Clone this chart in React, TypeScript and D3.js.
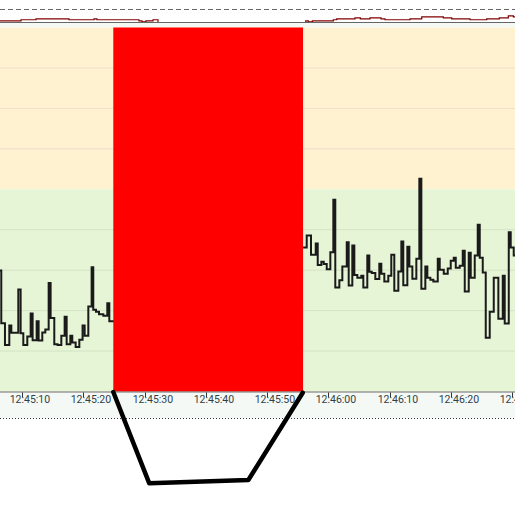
import * as d3 from "d3";

const W = 515;
const H = 509;

// seconds after 12:45:00
const TICK_LABELS = ["12:45:10", "12:45:20", "12:45:30", "12:45:40", "12:45:50", "12:46:00", "12:46:10", "12:46:20", "12:46:30"];
const VIEW = [6.36, 90.5];
const Y_MAX = 90;
const THRESHOLD = 50;
const ALARM_WINDOW = [24.87, 55.87];

const LEFT_T = [6.0, 6.57, 7.17, 7.88, 8.21, 9.35, 9.73, 10.17, 10.82, 11.37, 11.69, 12.35, 12.67, 13.27, 13.76, 14.31, 14.63, 15.23, 15.77, 16.38, 16.92, 17.25, 17.85, 18.17, 18.72, 19.32, 19.85, 20.19, 20.79, 21.33, 21.6, 22.04, 22.53, 23.24, 23.89, 24.22, 25.0];
const LEFT_V = [29.9, 16.9, 11.5, 16.3, 14.5, 25.2, 14.4, 11.5, 13.6, 19.3, 12.7, 17.4, 12.6, 14.6, 15.3, 26.8, 18.2, 11.7, 11.5, 13.8, 18.5, 11.7, 13.8, 12.1, 11.0, 12.8, 16.3, 13.8, 21.0, 30.7, 20.2, 19.7, 19.1, 18.7, 21.8, 17.4, 17.4];

const RIGHT_T = [55.87, 56.47, 57.17, 57.94, 58.27, 58.86, 59.25, 59.74, 60.33, 60.82, 61.14, 61.8, 62.29, 63.01, 63.33, 63.92, 64.25, 64.74, 65.39, 65.72, 66.37, 66.7, 67.09, 67.68, 68.33, 68.66, 69.15, 69.8, 70.29, 70.78, 71.44, 71.93, 72.25, 72.91, 73.24, 73.73, 74.38, 74.87, 75.2, 75.85, 76.18, 76.67, 77.16, 77.88, 78.2, 78.86, 79.51, 80.0, 80.49, 80.82, 81.47, 81.96, 82.29, 82.94, 83.27, 83.92, 84.41, 84.74, 85.23, 85.72, 86.37, 87.03, 87.78, 88.5, 88.82, 89.48, 89.8, 90.29, 91.0];
const RIGHT_V = [35.6, 38.6, 33.8, 36.6, 31.3, 32.1, 31.5, 30.2, 34.4, 47.4, 25.7, 27.5, 30.9, 36.9, 26.2, 36.1, 28.8, 28.1, 28.6, 25.7, 33.6, 29.6, 29.3, 27.8, 31.6, 29.1, 27.2, 28.6, 33.8, 24.9, 29.7, 37.1, 26.3, 35.8, 30.9, 27.9, 32.8, 52.6, 25.4, 30.9, 28.1, 27.6, 27.2, 32.8, 30.1, 29.1, 30.4, 32.3, 33.1, 30.6, 31.1, 34.8, 24.7, 34.3, 28.1, 33.6, 41.2, 33.1, 29.4, 13.3, 19.7, 28.1, 18.0, 28.6, 16.8, 39.4, 35.6, 33.6, 33.6];

// overview strip (0..100)
const NAV_LEFT_T = [6.0, 9.79, 12.24, 17.63, 21.72, 22.2, 29.07, 29.56, 30.2, 31.36, 32.17];
const NAV_LEFT_V = [13, 21, 28, 21, 28, 21, 13, 5, 13, 21, 0];
const NAV_RIGHT_T = [56.31, 56.31, 56.73, 57.39, 60.82, 61.37, 64.36, 65.23, 66.81, 68.61, 69.26, 73.35, 75.26, 78.79, 80.16, 83.15, 85.88, 87.94, 89.41, 90.23, 91.0];
const NAV_RIGHT_V = [0, 13, 5, 13, 21, 28, 36, 28, 36, 28, 21, 28, 44, 36, 28, 21, 28, 36, 51, 44, 44];

// hand-drawn mark under the alarm window: time, px below axis
const MARK_T = [24.87, 30.75, 46.93, 55.82];
const MARK_DY = [0.5, 91.8, 88.5, 1.2];

const BASE = new Date(2024, 0, 1, 12, 45, 0).getTime();
const toDate = (s: number) => new Date(BASE + s * 1000);
const parseTick = d3.timeParse("%H:%M:%S");

const PLOT_TOP = 27.5;
const PLOT_BOTTOM = 391.5;

const pairs = (ts: number[], vs: number[]) => ts.map((t, i) => [t, vs[i]] as [number, number]);

export default function App() {
  const x = d3.scaleTime().domain(VIEW.map(toDate)).range([0, W]);
  const y = d3.scaleLinear().domain([0, Y_MAX]).range([PLOT_BOTTOM, PLOT_TOP]);
  const ny = d3.scaleLinear().domain([0, 100]).range([22.5, 9.5]);

  const ticks = TICK_LABELS.map((l) => {
    const p = parseTick(l)!;
    return { label: l, s: (p.getHours() - 12) * 3600 + (p.getMinutes() - 45) * 60 + p.getSeconds() };
  });

  const line = d3.line<[number, number]>().x((d) => x(toDate(d[0]))).y((d) => y(d[1])).curve(d3.curveStepAfter);
  const navLine = d3.line<[number, number]>().x((d) => x(toDate(d[0]))).y((d) => ny(d[1])).curve(d3.curveStepAfter);
  const markLine = d3.line<[number, number]>().x((d) => x(toDate(d[0]))).y((d) => PLOT_BOTTOM + d[1]);

  const grid = d3.range(10, Y_MAX, 10);
  const ax0 = x(toDate(ALARM_WINDOW[0])), ax1 = x(toDate(ALARM_WINDOW[1]));

  return (
    <svg width={W} height={H} style={{ position: "absolute", left: 0, top: 0, background: "#fff" }}>
      {/* overview strip */}
      <line x1={0} x2={W} y1={ny(100)} y2={ny(100)} stroke="#666" strokeDasharray="5,3" />
      <path d={navLine(pairs(NAV_LEFT_T, NAV_LEFT_V))!} fill="none" stroke="#800000" strokeWidth={1.2} />
      <path d={navLine(pairs(NAV_RIGHT_T, NAV_RIGHT_V))!} fill="none" stroke="#800000" strokeWidth={1.2} />
      <line x1={0} x2={W} y1={ny(0)} y2={ny(0)} stroke="#666" />
      <rect x={0} y={23} width={W} height={PLOT_TOP - 23} fill="#f5f9f5" />

      {/* bands */}
      <rect x={0} y={y(Y_MAX)} width={W} height={y(THRESHOLD) - y(Y_MAX)} fill="#fff2d0" />
      <rect x={0} y={y(THRESHOLD)} width={W} height={y(0) - y(THRESHOLD)} fill="#e7f5d7" />
      {grid.filter((g) => g !== THRESHOLD).map((g) => (
        <line key={g} x1={0} x2={W} y1={y(g)} y2={y(g)} stroke={g > THRESHOLD ? "#f1dccc" : "#d2e3c3"} strokeWidth={1} />
      ))}

      <path d={line(pairs(LEFT_T, LEFT_V))!} fill="none" stroke="#1a1a1a" strokeWidth={2} />
      <path d={line(pairs(RIGHT_T, RIGHT_V))!} fill="none" stroke="#1a1a1a" strokeWidth={2} />

      <rect x={ax0} y={PLOT_TOP} width={ax1 - ax0} height={PLOT_BOTTOM - PLOT_TOP} fill="#ff0000" />

      {/* axis */}
      <rect x={0} y={PLOT_BOTTOM + 1} width={W} height={418 - PLOT_BOTTOM - 1} fill="#f5f9f5" />
      <line x1={0} x2={W} y1={PLOT_BOTTOM + 0.5} y2={PLOT_BOTTOM + 0.5} stroke="#666" />
      {ticks.map((t) => {
        const tx = Math.round(x(toDate(t.s))) + 0.5;
        return (
          <g key={t.label}>
            <line x1={tx} x2={tx} y1={PLOT_BOTTOM + 1} y2={PLOT_BOTTOM + 6} stroke="#333" />
            <text x={tx + 7.4} y={402.5} textAnchor="middle" fontFamily="Roboto, sans-serif" fontSize={10.5} fill="#2f3f4a">
              {t.label}
            </text>
          </g>
        );
      })}
      <line x1={0} x2={W} y1={418.5} y2={418.5} stroke="#333" strokeDasharray="1,2" />

      <path d={markLine(pairs(MARK_T, MARK_DY))!} fill="none" stroke="#000" strokeWidth={4.5} strokeLinejoin="round" strokeLinecap="round" />
    </svg>
  );
}
